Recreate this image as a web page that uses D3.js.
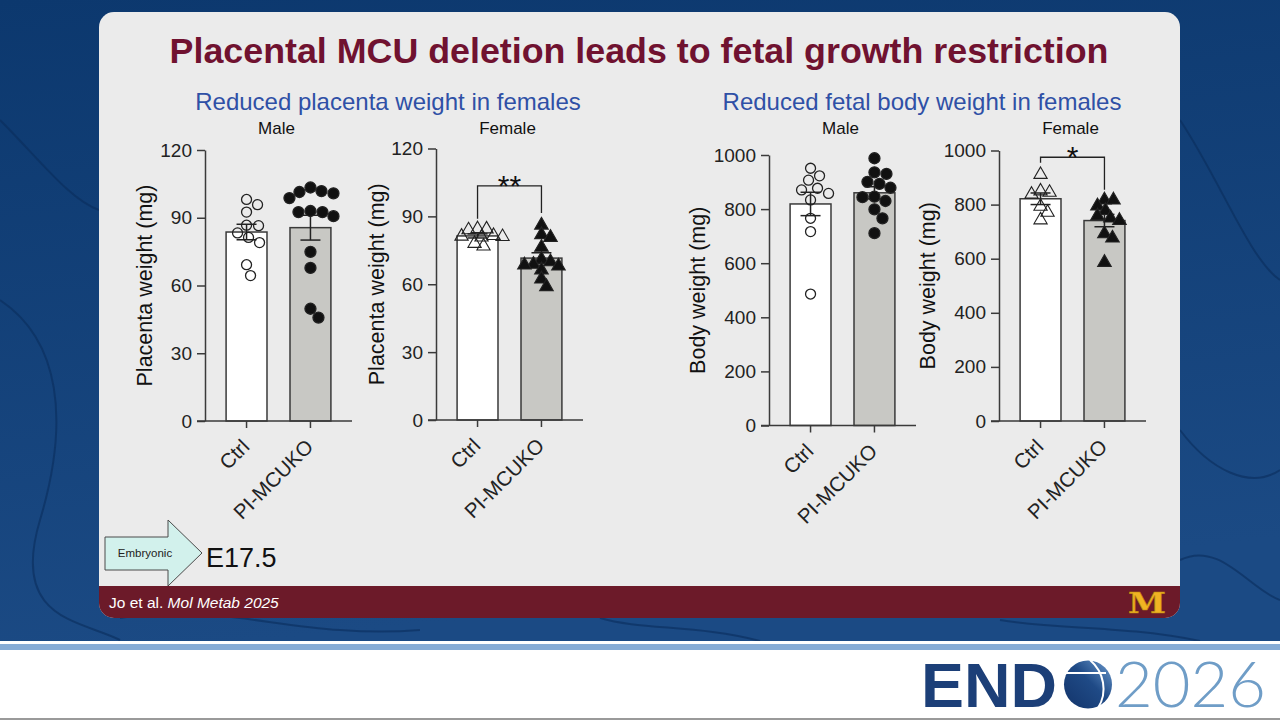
<!DOCTYPE html>
<html>
<head>
<meta charset="utf-8">
<title>Placental MCU deletion</title>
<script src="https://d3js.org/d3.v7.min.js"></script>
<style>
    body { margin: 0; background: #fff; }
    svg { display: block; font-family: "Liberation Sans", Arial, sans-serif; }
    .axis path, .axis line { stroke: #3a3a3a; stroke-width: 1.5; }
    .axis text { font-size: 19px; fill: #222; font-family: "Liberation Sans", Arial, sans-serif; }
    .xaxis text { font-size: 20.5px; }
</style>
</head>
<body>
<div id="slide"></div>
<script>
    // ---- data ----
    const groups = ["Ctrl", "PI-MCUKO"];

    const placentaTicks = [0, 30, 60, 90, 120];
    const bodyTicks = [0, 200, 400, 600, 800, 1000];

    const placentaMaleCtrl = [98.1, 95.8, 92.5, 86.7, 86.5, 83.3, 81.3, 79.0, 69.2, 64.4];
    const placentaMaleKO = [103.4, 101.8, 101.4, 100.8, 98.7, 93.0, 92.5, 92.5, 90.7, 74.9, 67.8, 49.7, 45.8];
    const placentaFemaleCtrl = [84.5, 84.4, 84.0, 81.5, 81.2, 81.0, 80.8, 78.0, 76.8];
    const placentaFemaleKO = [86.1, 81.9, 80.7, 76.3, 71.0, 69.9, 68.8, 68.5, 68.0, 66.3, 62.3, 58.9];

    const bodyMaleCtrl = [951, 923, 907, 877, 871, 858, 834, 766, 717, 486];
    const bodyMaleKO = [988, 936, 930, 901, 893, 879, 846, 844, 830, 799, 766, 711];
    const bodyFemaleCtrl = [911, 850, 845, 838, 793, 771, 743];
    const bodyFemaleKO = [817, 817, 795, 778, 758, 750, 741, 692, 676, 586];

    const sectionTitles = ["Reduced placenta weight in females", "Reduced fetal body weight in females"];
    const sexLabels = ["Male", "Female", "Male", "Female"];
    const yLabels = ["Placenta weight (mg)", "Placenta weight (mg)", "Body weight (mg)", "Body weight (mg)"];

    // significance: [label, bracket level, left leg end, right leg end]
    const placentaFemaleSig = ["**", 103.5, 89, 91.5];
    const bodyFemaleSig = ["*", 975, 955, 855];

    const W = 1280, H = 720;
    const svg = d3.select("#slide").append("svg").attr("width", W).attr("height", H);
    const defs = svg.append("defs");

    // ---- slide background ----
    const bg = defs.append("linearGradient").attr("id", "bg").attr("x1", 0).attr("y1", 0).attr("x2", 0.2).attr("y2", 1);
    bg.append("stop").attr("offset", 0).attr("stop-color", "#0c386e");
    bg.append("stop").attr("offset", 1).attr("stop-color", "#1b4a84");
    svg.append("rect").attr("width", W).attr("height", 641).attr("fill", "url(#bg)");

    // faint vein texture
    const veins = [
        "M0,300 C60,340 70,420 40,520 S80,620 120,640",
        "M1180,120 C1220,180 1250,260 1280,280",
        "M1180,430 C1210,470 1250,490 1280,470",
        "M120,618 C220,600 300,640 420,630",
        "M600,618 C640,630 700,625 760,641",
        "M1000,620 C1060,630 1120,625 1200,641",
        "M0,120 C40,160 70,200 99,210",
        "M1180,560 C1220,540 1250,590 1280,600"
    ];
    svg.selectAll(".vein").data(veins).enter().append("path")
        .attr("d", d => d).attr("fill", "none")
        .attr("stroke", "#0a2d5c").attr("stroke-width", 2).attr("opacity", 0.6);

    svg.append("rect").attr("x", 0).attr("y", 641).attr("width", W).attr("height", 79).attr("fill", "#ffffff");
    svg.append("rect").attr("x", 0).attr("y", 644).attr("width", W).attr("height", 6).attr("fill", "#86acd6");
    svg.append("rect").attr("x", 0).attr("y", 718).attr("width", W).attr("height", 2).attr("fill", "#9a9a9a");

    // ---- card ----
    defs.append("clipPath").attr("id", "cardClip")
        .append("rect").attr("x", 99).attr("y", 12).attr("width", 1081).attr("height", 606).attr("rx", 15);
    const card = svg.append("g").attr("clip-path", "url(#cardClip)");
    card.append("rect").attr("x", 99).attr("y", 12).attr("width", 1081).attr("height", 606).attr("fill", "#ebebeb");
    card.append("rect").attr("x", 99).attr("y", 586).attr("width", 1081).attr("height", 32).attr("fill", "#6c1a29");

    svg.append("text").attr("x", 639).attr("y", 63).attr("text-anchor", "middle")
        .style("font-size", "35.8px").style("font-weight", "bold").attr("fill", "#701230")
        .text("Placental MCU deletion leads to fetal growth restriction");

    svg.selectAll(".section").data(sectionTitles).enter().append("text")
        .attr("x", (d, i) => i === 0 ? 388 : 922).attr("y", 110)
        .attr("text-anchor", "middle").style("font-size", "24px").attr("fill", "#2f50a6")
        .text(d => d);

    // ---- panels ----
    const panels = [
        { axisX: 205, top: 150, bottom: 421, ticks: placentaTicks, ctrl: placentaMaleCtrl, ko: placentaMaleKO, marker: "circle", labelOff: 61, sig: null },
        { axisX: 436, top: 148.5, bottom: 420, ticks: placentaTicks, ctrl: placentaFemaleCtrl, ko: placentaFemaleKO, marker: "triangle", labelOff: 60, sig: placentaFemaleSig },
        { axisX: 769, top: 155, bottom: 425.5, ticks: bodyTicks, ctrl: bodyMaleCtrl, ko: bodyMaleKO, marker: "circle", labelOff: 72, sig: null },
        { axisX: 999, top: 150.5, bottom: 421, ticks: bodyTicks, ctrl: bodyFemaleCtrl, ko: bodyFemaleKO, marker: "triangle", labelOff: 72, sig: bodyFemaleSig }
    ];

    function sem(v) { return d3.deviation(v) / Math.sqrt(v.length); }

    // simple deterministic beeswarm: nearest free horizontal offset
    function swarm(values, y, minDist) {
        const placed = [];
        return values.map(v => {
            const py = y(v);
            let off = 0;
            for (let k = 0; k < 60; k++) {
                const cand = k === 0 ? 0 : (k % 2 ? 1 : -1) * Math.ceil(k / 2);
                const ok = placed.every(p => Math.hypot(p.dx - cand, p.y - py) >= minDist);
                if (ok) { off = cand; break; }
            }
            const pt = { v: v, y: py, dx: off };
            placed.push(pt);
            return pt;
        });
    }

    panels.forEach((p, i) => {
        const width = 147;
        const height = p.bottom - p.top;
        const g = svg.append("g").attr("transform", `translate(${p.axisX},${p.top})`);

        const y = d3.scaleLinear().domain([0, d3.max(p.ticks)]).range([height, 0]);
        const x = d3.scaleBand().domain(groups).range([0, width]).paddingInner(0.36).paddingOuter(0.33);

        // bars
        const series = [p.ctrl, p.ko];
        const summary = groups.map((k, j) => ({ key: k, mean: d3.mean(series[j]), sem: sem(series[j]), values: series[j] }));

        g.selectAll(".bar").data(summary).enter().append("rect")
            .attr("x", d => x(d.key)).attr("width", x.bandwidth())
            .attr("y", d => y(d.mean)).attr("height", d => height - y(d.mean))
            .attr("fill", (d, j) => j === 0 ? "#ffffff" : "#c8c8c4")
            .attr("stroke", "#3a3a3a").attr("stroke-width", 1.5);

        // error bars
        const eb = g.selectAll(".eb").data(summary).enter().append("g")
            .attr("transform", d => `translate(${x(d.key) + x.bandwidth() / 2},0)`);
        eb.append("line").attr("y1", d => y(d.mean - d.sem)).attr("y2", d => y(d.mean + d.sem))
            .attr("stroke", "#222").attr("stroke-width", 1.5);
        eb.selectAll(".cap").data(d => [d.mean - d.sem, d.mean + d.sem]).enter().append("line")
            .attr("x1", -10).attr("x2", 10).attr("y1", v => y(v)).attr("y2", v => y(v))
            .attr("stroke", "#222").attr("stroke-width", 1.5);

        // points
        summary.forEach((s, j) => {
            const cx = x(s.key) + x.bandwidth() / 2;
            const pts = swarm(s.values, y, p.marker === "circle" ? 11.5 : 9);
            const filled = j === 1;
            if (p.marker === "circle") {
                g.selectAll(null).data(pts).enter().append("circle")
                    .attr("cx", d => cx + d.dx).attr("cy", d => d.y).attr("r", filled ? 5.5 : 5)
                    .attr("fill", filled ? "#111" : "none").attr("stroke", "#222").attr("stroke-width", 1.3);
            } else {
                const sym = d3.symbol().type(d3.symbolTriangle).size(filled ? 80 : 76);
                g.selectAll(null).data(pts).enter().append("path")
                    .attr("d", sym).attr("transform", d => `translate(${cx + d.dx},${d.y})`)
                    .attr("fill", filled ? "#111" : "none").attr("stroke", "#222").attr("stroke-width", 1.1);
            }
        });

        // axes
        g.append("g").attr("class", "axis")
            .call(d3.axisLeft(y).tickValues(p.ticks).tickFormat(d3.format("d"))
                .tickSize(8).tickSizeOuter(0).tickPadding(5));
        const xa = g.append("g").attr("class", "axis xaxis").attr("transform", `translate(0,${height})`)
            .call(d3.axisBottom(x).tickSize(7).tickSizeOuter(0));
        xa.select(".domain").attr("d", `M-8,0H${width}`);
        xa.selectAll("text")
            .attr("text-anchor", "end").attr("dy", "0.35em").attr("y", 0)
            .attr("transform", "translate(-1,22) rotate(-45)");

        // y label
        g.append("text").attr("transform", `translate(${-p.labelOff},${height / 2}) rotate(-90)`)
            .attr("text-anchor", "middle").attr("dy", "0.35em")
            .style("font-size", "21.5px").attr("fill", "#111").text(yLabels[i]);

        // sex label
        g.append("text").attr("x", width / 2 - 2).attr("y", 134 - p.top)
            .attr("text-anchor", "middle").style("font-size", "17px").attr("fill", "#111")
            .text(sexLabels[i]);

        // significance bracket
        if (p.sig) {
            const x1 = x(groups[0]) + x.bandwidth() / 2, x2 = x(groups[1]) + x.bandwidth() / 2;
            const yl = y(p.sig[1]);
            g.append("path")
                .attr("d", `M${x1},${y(p.sig[2])}V${yl}H${x2}V${y(p.sig[3])}`)
                .attr("fill", "none").attr("stroke", "#222").attr("stroke-width", 1.3);
            g.append("text").attr("x", (x1 + x2) / 2).attr("y", yl + 10)
                .attr("text-anchor", "middle").style("font-size", "30px").attr("fill", "#111")
                .text(p.sig[0]);
        }
    });

    // ---- embryonic arrow ----
    svg.append("path")
        .attr("d", "M105,537H168V520L202,553L168,586V570H105Z")
        .attr("fill", "#d2f1ec").attr("stroke", "#4a4a4a").attr("stroke-width", 1);
    svg.append("text").attr("x", 145).attr("y", 557).attr("text-anchor", "middle")
        .style("font-size", "11.5px").attr("fill", "#222").text("Embryonic");
    svg.append("text").attr("x", 206).attr("y", 567)
        .style("font-size", "27px").attr("fill", "#111").text("E17.5");

    // ---- footer ----
    const cite = svg.append("text").attr("x", 109).attr("y", 608).style("font-size", "15.5px").attr("fill", "#fff");
    cite.append("tspan").text("Jo et al. ");
    cite.append("tspan").style("font-style", "italic").text("Mol Metab 2025");

    svg.append("text").attr("x", 1128).attr("y", 613).attr("textLength", 38).attr("lengthAdjust", "spacingAndGlyphs")
        .style("font-family", "'DejaVu Serif', serif").style("font-weight", "bold").style("font-size", "27px")
        .attr("fill", "#f0b323").attr("stroke", "#b8860b").attr("stroke-width", 0.5).text("M");

    // ---- ENDO 2026 logo ----
    svg.append("text").attr("x", 921).attr("y", 707).attr("textLength", 136).attr("lengthAdjust", "spacingAndGlyphs")
        .style("font-size", "63px").style("font-weight", "bold").attr("fill", "#1c3f78").text("END");
    const gl = defs.append("linearGradient").attr("id", "globe").attr("x1", 0).attr("y1", 1).attr("x2", 1).attr("y2", 0);
    gl.append("stop").attr("offset", 0).attr("stop-color", "#13346a");
    gl.append("stop").attr("offset", 0.55).attr("stop-color", "#1f4a86");
    gl.append("stop").attr("offset", 1).attr("stop-color", "#6d9ccf");
    svg.append("circle").attr("cx", 1088).attr("cy", 684.5).attr("r", 24).attr("fill", "url(#globe)");
    svg.append("line").attr("x1", 1064).attr("x2", 1106).attr("y1", 673).attr("y2", 673)
        .attr("stroke", "#fff").attr("stroke-width", 2.2);
    svg.append("path").attr("d", "M1090,660 C1104,672 1108,692 1098,708")
        .attr("fill", "none").attr("stroke", "#fff").attr("stroke-width", 2);
    svg.append("text").attr("x", 1115).attr("y", 707).attr("textLength", 151).attr("lengthAdjust", "spacingAndGlyphs")
        .style("font-family", "Lato, 'Open Sans', sans-serif").style("font-weight", 300).style("font-size", "64px")
        .attr("fill", "#6f9dc7").text("2026");
</script>
</body>
</html>
